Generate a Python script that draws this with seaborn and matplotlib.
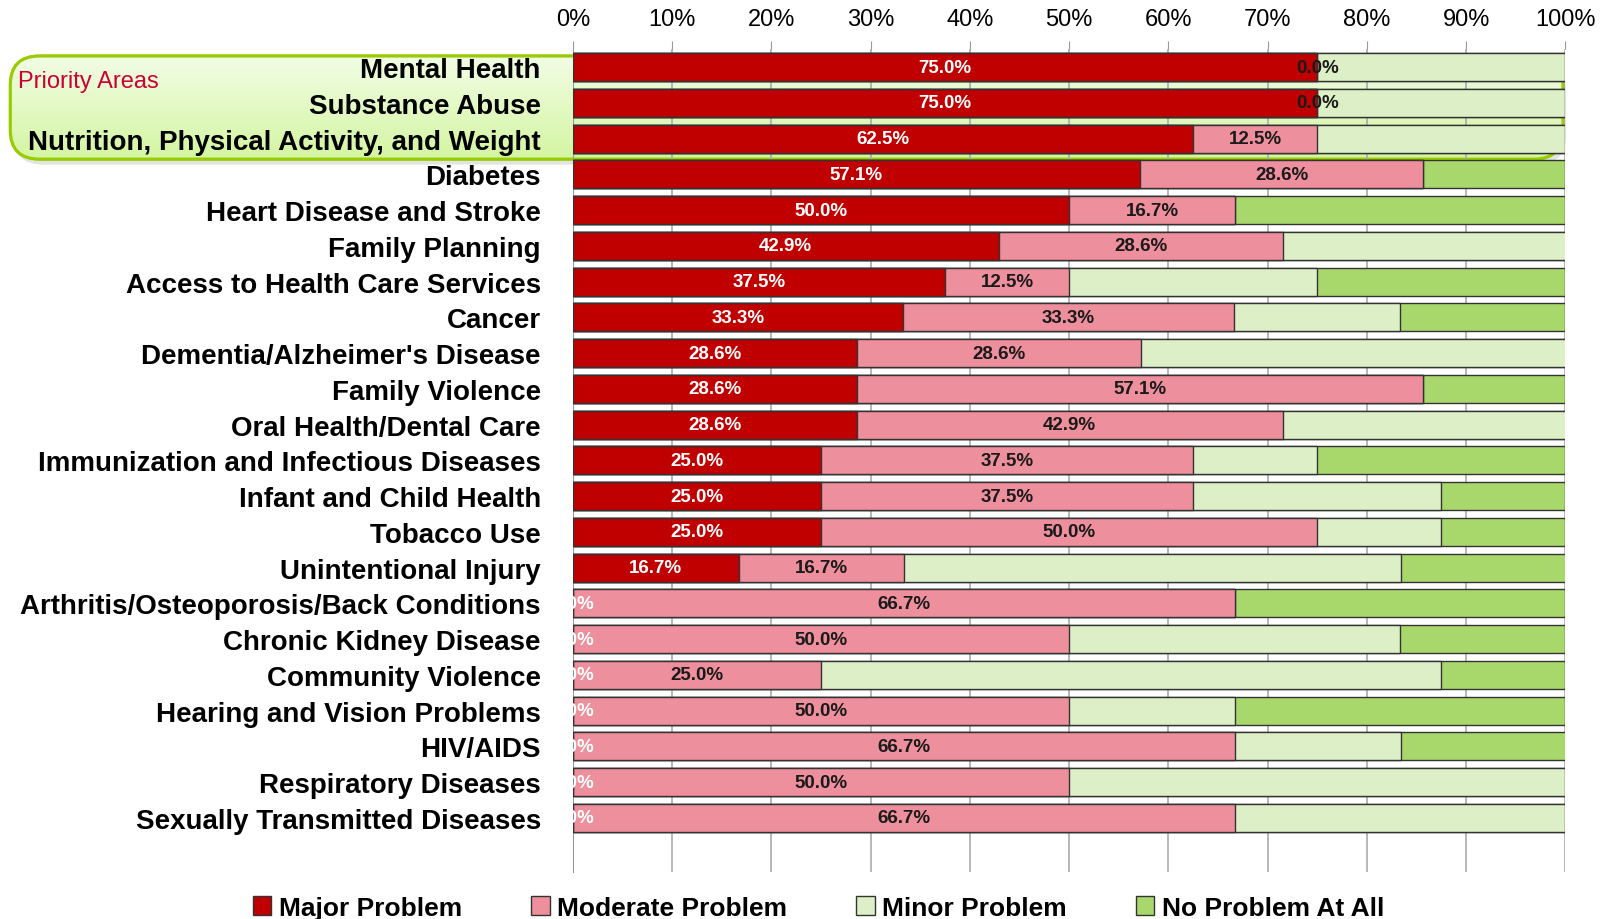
import numpy as np
import pandas as pd
import matplotlib
matplotlib.use("Agg")
import matplotlib.pyplot as plt
import seaborn as sns
from matplotlib.patches import FancyBboxPatch, Patch

# data (percent)
categories = [
    "Mental Health", "Substance Abuse", "Nutrition, Physical Activity, and Weight",
    "Diabetes", "Heart Disease and Stroke", "Family Planning",
    "Access to Health Care Services", "Cancer", "Dementia/Alzheimer's Disease",
    "Family Violence", "Oral Health/Dental Care", "Immunization and Infectious Diseases",
    "Infant and Child Health", "Tobacco Use", "Unintentional Injury",
    "Arthritis/Osteoporosis/Back Conditions", "Chronic Kidney Disease",
    "Community Violence", "Hearing and Vision Problems", "HIV/AIDS",
    "Respiratory Diseases", "Sexually Transmitted Diseases",
]
major = [75.0, 75.0, 62.5, 57.1, 50.0, 42.9, 37.5, 33.3, 28.6, 28.6, 28.6,
         25.0, 25.0, 25.0, 16.7, 0.0, 0.0, 0.0, 0.0, 0.0, 0.0, 0.0]
moderate = [0.0, 0.0, 12.5, 28.6, 16.7, 28.6, 12.5, 33.3, 28.6, 57.1, 42.9,
            37.5, 37.5, 50.0, 16.7, 66.7, 50.0, 25.0, 50.0, 66.7, 50.0, 66.7]
minor = [25.0, 25.0, 25.0, 0.0, 0.0, 28.6, 25.0, 16.7, 42.9, 0.0, 28.6,
         12.5, 25.0, 12.5, 50.0, 0.0, 33.3, 62.5, 16.7, 16.7, 50.0, 33.3]
no_problem = [0.0, 0.0, 0.0, 14.3, 33.3, 0.0, 25.0, 16.7, 0.0, 14.3, 0.0,
              25.0, 12.5, 12.5, 16.7, 33.3, 16.7, 12.5, 33.3, 16.7, 0.0, 0.0]
series = ["Major Problem", "Moderate Problem", "Minor Problem", "No Problem At All"]
colors = ["#c00000", "#ee8f9d", "#ddefc6", "#a8d86b"]

df = pd.DataFrame({"category": categories, "Major Problem": major,
                   "Moderate Problem": moderate, "Minor Problem": minor,
                   "No Problem At All": no_problem})
cum = df[series].cumsum(axis=1)

sns.set_style("white")
plt.rcParams["font.family"] = ["Liberation Sans", "DejaVu Sans"]
plt.rcParams["text.color"] = "black"
plt.rcParams["xtick.labelcolor"] = "black"
plt.rcParams["ytick.labelcolor"] = "black"
narrow = ["Liberation Sans Narrow", "Liberation Sans", "DejaVu Sans"]

fig = plt.figure(figsize=(16.18, 9.2), dpi=100)

# background layer with the "Priority Areas" box
bg = fig.add_axes([0, 0, 1, 1], zorder=0)
bg.set_xlim(0, 1)
bg.set_ylim(0, 1)
bg.axis("off")
bx0, by0, bx1, by1 = 0.0064, 0.826, 0.966, 0.938
shadow = FancyBboxPatch((bx0 + 0.002, by0 - 0.006), bx1 - bx0, by1 - by0,
                        boxstyle="round,pad=0,rounding_size=0.018",
                        mutation_aspect=1.76, fc="#c8c8c8", ec="none", alpha=0.5)
bg.add_patch(shadow)
box = FancyBboxPatch((bx0, by0), bx1 - bx0, by1 - by0,
                     boxstyle="round,pad=0,rounding_size=0.018",
                     mutation_aspect=1.76, fc="#e4f9c6", ec="#99cc00", lw=2.2)
bg.add_patch(box)
grad = np.linspace(0, 1, 100).reshape(-1, 1)
cmap = matplotlib.colors.LinearSegmentedColormap.from_list("g", ["#d4f5a2", "#f2fde6"])
im = bg.imshow(grad, extent=(bx0, bx1, by0, by1), origin="lower", cmap=cmap,
               aspect="auto", zorder=2)
im.set_clip_path(box)
edge = FancyBboxPatch((bx0, by0), bx1 - bx0, by1 - by0,
                      boxstyle="round,pad=0,rounding_size=0.018",
                      mutation_aspect=1.76, fc="none", ec="#99cc00", lw=2.2, zorder=3)
bg.add_patch(edge)
bg.text(0.011, 0.911, "Priority Areas", color="#cc0033", fontsize=17,
        va="center", ha="left", zorder=4)

ax = fig.add_axes([0.354, 0.0516, 0.6135, 0.8938], zorder=1)
ax.patch.set_alpha(0)

# stacked bars: draw cumulative totals from the longest down
for s, c in reversed(list(zip(series, colors))):
    sns.barplot(x=cum[s], y=df["category"], orient="h", color=c, saturation=1,
                width=0.78, edgecolor="#333333", linewidth=1.0, ax=ax, zorder=3)

ax.set_xlim(0, 100)
ax.set_ylim(22.5, -0.5)
ax.set_xlabel("")
ax.set_ylabel("")
ax.xaxis.tick_top()
ax.set_xticks(np.arange(0, 101, 10))
ax.set_xticklabels([f"{v}%" for v in range(0, 101, 10)], fontsize=17, family=narrow)
ax.tick_params(axis="x", length=6, color="#999999", pad=8)
ax.grid(axis="x", color="#aaaaaa", lw=1.2, zorder=0)
ax.set_axisbelow(True)
ax.set_yticks(range(len(categories)))
ax.set_yticklabels(categories, fontsize=20, fontweight="bold", color="black")
ax.tick_params(axis="y", length=0, pad=23)
ax.set_yticks(np.arange(-0.5, 22.6, 1), minor=True)
ax.tick_params(axis="y", which="minor", length=14, color="#999999")
for side in ["top", "right", "bottom"]:
    ax.spines[side].set_visible(False)
ax.spines["left"].set_color("#999999")

# data labels
for i in range(len(categories)):
    ax.text(major[i] / 2, i, f"{major[i]:.1f}%", ha="center", va="center",
            color="white", fontsize=13.5, fontweight="bold", zorder=5, clip_on=False)
    ax.text(major[i] + moderate[i] / 2, i, f"{moderate[i]:.1f}%", ha="center",
            va="center", color="#1a1a1a", fontsize=13.5, fontweight="bold", zorder=5)

handles = [Patch(facecolor=c, edgecolor="#333333", label=s) for s, c in zip(series, colors)]
leg = fig.legend(handles=handles, loc="center", bbox_to_anchor=(0.506, 0.012), ncol=4,
                 frameon=False, prop={"family": narrow, "weight": "bold", "size": 19},
                 handlelength=0.7, handleheight=0.7, handletextpad=0.3,
                 columnspacing=2.6)
for t in leg.get_texts():
    t.set_color("black")

fig.savefig("out.png", dpi=100)
